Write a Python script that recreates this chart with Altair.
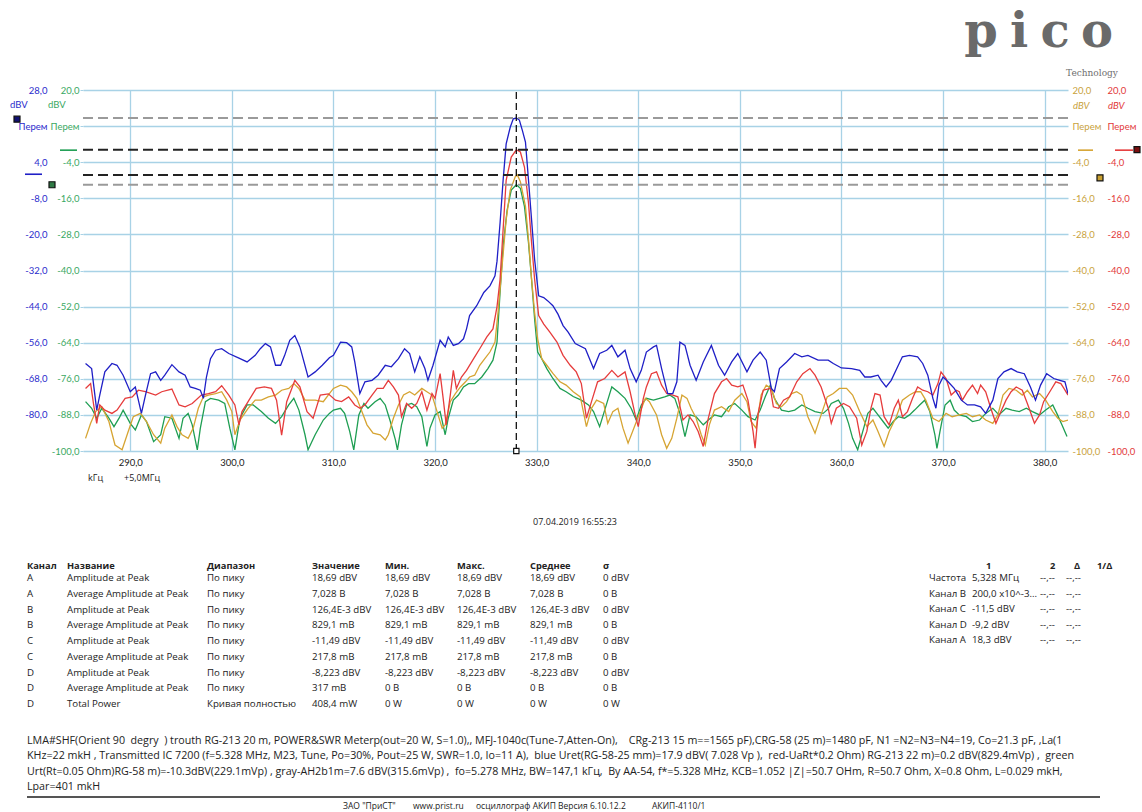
import altair as alt
import pandas as pd

# ---------------- data ----------------
X_TICKS = [290, 300, 310, 320, 330, 340, 350, 360, 370, 380]
Y_TICKS = [-100, -88, -76, -64, -52, -40, -28, -16, -4, 8, 20]
Y_TICKS_A = [-80, -68, -56, -44, -32, -20, -8, 4, 16, 28]
X_DOMAIN = [285.35, 382.3]
Y_DOMAIN = [-100, 20]
Y_DOMAIN_A = [-92, 28]

# channel A (blue), dBV on its own axis
A_POINTS = [(285.6, -62.9), (286.2, -64.6), (286.7, -78.4), (287.0, -73.4), (287.5, -65.7), (288.2, -62.9),
            (288.7, -63.5), (289.3, -66.8), (290.0, -72.3), (290.5, -70.7), (291.1, -79.5), (291.5, -73.4),
            (292.0, -66.3), (292.5, -65.7), (293.0, -68.5), (293.4, -66.8), (294.1, -63.3), (294.8, -65.7),
            (295.4, -66.8), (295.9, -70.7), (296.4, -71.2), (296.9, -71.8), (297.2, -74.5), (297.5, -67.4),
            (297.9, -61.3), (298.4, -58.5), (299.0, -58.0), (299.7, -59.6), (300.7, -61.1), (301.5, -62.4),
            (302.3, -60.2), (302.8, -58.0), (303.3, -56.3), (303.8, -57.4), (304.3, -63.5), (304.8, -63.5),
            (305.2, -60.2), (305.7, -55.2), (306.2, -53.6), (306.7, -57.4), (307.5, -67.4), (308.2, -65.7),
            (308.9, -63.5), (309.6, -61.0), (310.0, -60.2), (310.7, -55.8), (311.3, -56.0), (311.8, -57.4),
            (312.1, -62.4), (312.6, -72.9), (313.1, -69.0), (313.8, -68.5), (314.4, -66.8), (315.1, -63.5),
            (315.7, -64.0), (316.4, -61.3), (317.0, -58.0), (317.5, -59.6), (318.0, -65.7), (318.5, -60.7),
            (319.0, -64.6), (319.3, -68.5), (319.8, -63.5), (320.5, -55.2), (321.0, -57.4), (321.3, -54.1),
            (321.8, -56.9), (322.3, -56.3), (322.8, -54.7), (323.1, -51.4), (323.4, -47.0), (324.1, -43.7),
            (324.8, -39.3), (325.4, -37.1), (325.9, -33.8), (326.1, -28.9), (326.4, -16.2), (326.7, -2.0),
            (327.0, 10.1), (327.4, 15.6), (327.7, 18.4), (328.0, 18.69), (328.3, 18.0), (328.6, 14.5),
            (328.9, 10.7), (329.2, -2.0), (329.5, -15.1), (329.8, -28.3), (330.2, -40.4), (330.7, -41.0),
            (331.1, -42.1), (331.6, -43.7), (332.1, -46.5), (332.6, -50.3), (333.1, -52.5), (333.8, -56.3),
            (334.8, -58.0), (335.6, -64.6), (336.2, -59.6), (336.9, -58.5), (337.4, -56.9), (338.0, -60.7),
            (338.7, -58.5), (339.2, -64.6), (339.8, -69.0), (340.3, -65.2), (340.8, -59.1), (341.5, -57.4),
            (341.8, -56.9), (342.3, -64.6), (342.9, -72.9), (343.4, -72.9), (343.8, -69.0), (344.1, -55.8),
            (344.6, -56.9), (345.1, -63.5), (345.7, -68.5), (346.4, -62.4), (347.2, -56.9), (347.9, -63.5),
            (348.5, -66.8), (349.2, -62.4), (349.8, -59.6), (350.7, -65.7), (351.3, -61.8), (352.0, -59.1),
            (352.6, -61.8), (353.1, -71.2), (353.4, -72.3), (353.9, -64.6), (354.6, -62.4), (355.4, -59.6),
            (356.1, -60.7), (356.7, -60.2), (357.7, -61.8), (358.7, -61.8), (359.2, -62.9), (360.0, -64.4),
            (361.0, -64.6), (361.8, -65.2), (362.3, -67.4), (362.9, -67.4), (363.6, -66.8), (363.9, -68.5),
            (364.4, -70.7), (364.9, -68.5), (365.6, -63.5), (366.0, -60.7), (366.7, -60.2), (367.5, -60.7),
            (368.0, -62.9), (368.5, -66.8), (369.0, -74.5), (369.3, -77.8), (369.6, -70.1), (370.0, -67.4),
            (370.5, -69.0), (371.1, -71.2), (371.8, -75.1), (372.4, -76.7), (373.1, -76.7), (373.7, -77.3),
            (374.2, -79.5), (374.9, -75.1), (375.4, -67.9), (376.0, -65.7), (376.7, -64.6), (377.3, -65.7),
            (378.0, -66.3), (378.6, -70.7), (379.1, -75.1), (379.6, -70.1), (380.2, -66.3), (380.9, -67.9),
            (381.5, -68.5), (382.0, -69.0), (382.3, -72.9)]

# channel B (red)
B_POINTS = [(285.6, -79.2), (286.1, -77.6), (286.4, -84.7), (286.7, -90.8), (287.0, -84.7), (287.5, -86.4),
            (288.2, -87.5), (288.7, -86.4), (289.5, -82.5), (290.2, -82.0), (290.8, -79.8), (291.5, -80.3),
            (292.5, -81.4), (293.1, -80.3), (294.1, -79.4), (294.8, -84.7), (295.4, -85.3), (296.1, -84.2),
            (297.0, -81.4), (297.7, -80.9), (298.4, -80.3), (299.0, -78.3), (299.7, -81.4), (300.3, -84.7),
            (300.7, -91.3), (301.0, -86.9), (301.6, -83.6), (302.4, -79.2), (303.2, -78.7), (303.9, -79.2),
            (304.4, -83.1), (304.9, -94.7), (305.4, -83.6), (305.9, -79.2), (306.2, -76.5), (306.7, -78.7),
            (307.4, -86.9), (308.0, -89.1), (308.7, -81.4), (309.5, -81.0), (310.2, -83.1), (310.8, -83.6),
            (311.5, -82.0), (312.1, -84.7), (312.6, -85.8), (313.1, -84.7), (313.8, -81.4), (314.3, -79.2),
            (314.9, -79.2), (315.4, -76.5), (315.9, -78.7), (316.4, -81.4), (316.7, -88.6), (317.2, -84.2),
            (317.7, -85.8), (318.2, -84.2), (318.7, -80.3), (319.2, -86.4), (319.7, -80.9), (320.0, -82.5),
            (320.5, -74.3), (320.8, -82.5), (321.1, -91.3), (321.5, -81.4), (321.8, -73.2), (322.1, -79.2),
            (322.6, -75.4), (323.1, -73.2), (323.8, -69.3), (324.4, -66.0), (325.1, -62.1), (325.7, -59.4),
            (326.1, -52.0), (326.4, -42.9), (326.7, -26.4), (327.0, -10.0), (327.5, -2.3), (328.0, 0.126),
            (328.4, -0.6), (328.8, -5.6), (329.2, -17.6), (329.5, -30.8), (329.8, -42.9), (330.2, -55.0),
            (330.7, -57.8), (331.3, -60.5), (332.0, -63.8), (332.6, -68.2), (333.3, -71.5), (333.9, -73.7),
            (334.4, -77.6), (334.9, -89.1), (335.4, -83.6), (336.0, -77.0), (336.7, -75.9), (337.4, -73.2),
            (338.0, -75.4), (338.7, -73.7), (339.2, -80.3), (339.7, -88.0), (340.0, -91.9), (340.5, -82.5),
            (340.8, -78.7), (341.3, -74.3), (341.8, -73.7), (342.3, -78.1), (342.8, -80.9), (343.4, -81.4),
            (343.9, -82.0), (344.4, -89.7), (344.9, -88.0), (345.4, -90.2), (345.9, -93.5), (346.4, -98.5),
            (346.9, -89.1), (347.5, -80.9), (348.2, -77.0), (348.7, -75.9), (349.2, -78.1), (349.8, -78.7),
            (350.3, -78.1), (350.8, -83.1), (351.3, -93.5), (351.5, -99.1), (351.8, -87.5), (352.3, -79.8),
            (353.0, -79.2), (353.3, -85.3), (353.8, -85.8), (354.3, -83.1), (354.9, -82.0), (355.6, -77.0),
            (356.2, -74.3), (356.9, -72.6), (357.4, -74.8), (358.0, -78.7), (358.7, -85.8), (359.0, -90.8),
            (359.5, -85.8), (360.2, -84.2), (360.8, -85.3), (361.5, -89.1), (362.0, -98.0), (362.5, -93.5),
            (362.9, -85.8), (363.3, -80.9), (363.8, -81.4), (364.2, -88.6), (364.7, -91.3), (365.2, -85.8),
            (365.6, -83.1), (366.0, -88.6), (366.5, -86.9), (367.0, -82.5), (367.5, -78.7), (368.0, -79.8),
            (368.5, -80.3), (369.0, -81.4), (369.5, -77.6), (369.8, -73.7), (370.3, -75.9), (370.8, -81.4),
            (371.3, -79.8), (371.6, -80.3), (371.9, -83.1), (372.4, -80.3), (372.9, -78.1), (373.4, -80.9),
            (373.7, -78.1), (374.2, -80.3), (374.7, -85.8), (375.2, -90.8), (375.7, -86.9), (376.2, -83.1),
            (376.7, -80.3), (377.2, -78.7), (377.8, -79.8), (378.3, -84.2), (379.0, -90.8), (379.5, -88.0),
            (379.9, -83.6), (380.6, -79.8), (381.1, -77.0), (381.6, -77.6), (381.9, -79.2), (382.3, -81.4)]

# channel C (green)
C_POINTS = [(285.6, -83.6), (286.2, -85.8), (286.7, -89.1), (287.2, -85.8), (287.9, -89.1), (288.4, -91.9),
            (288.9, -89.1), (289.3, -86.4), (290.0, -90.8), (290.5, -93.0), (291.1, -88.0), (291.6, -90.2),
            (292.3, -96.9), (293.0, -94.6), (293.4, -88.6), (294.1, -89.1), (294.8, -95.8), (295.2, -89.1),
            (295.7, -87.5), (296.1, -91.3), (296.6, -99.6), (296.9, -92.4), (297.4, -83.6), (297.9, -82.5),
            (298.7, -83.1), (299.3, -84.2), (299.8, -92.4), (300.3, -99.6), (300.8, -89.1), (301.5, -84.7),
            (302.1, -84.7), (302.9, -86.9), (303.6, -89.1), (304.3, -90.8), (304.9, -88.6), (305.6, -84.7),
            (306.1, -82.5), (306.6, -86.4), (307.2, -94.6), (307.5, -99.6), (308.2, -94.6), (309.0, -89.7),
            (309.6, -87.5), (310.0, -86.4), (310.7, -85.8), (311.1, -87.5), (311.6, -93.5), (312.0, -99.6),
            (312.5, -88.0), (313.0, -84.2), (313.4, -85.8), (314.1, -83.6), (314.6, -82.5), (315.1, -84.7),
            (315.6, -90.2), (316.1, -96.3), (316.3, -99.6), (316.7, -91.3), (317.2, -84.7), (317.7, -84.2),
            (318.2, -85.3), (318.7, -88.6), (319.2, -98.5), (319.5, -92.4), (320.0, -88.0), (320.5, -86.9),
            (321.0, -94.6), (321.3, -89.1), (321.8, -83.1), (322.3, -81.4), (322.8, -78.7), (323.3, -77.6),
            (323.9, -77.6), (324.6, -75.4), (325.2, -72.6), (325.7, -69.8), (326.1, -63.8), (326.4, -47.3),
            (326.7, -31.9), (327.1, -19.8), (327.5, -13.3), (328.0, -11.49), (328.4, -12.7), (328.8, -18.7),
            (329.2, -30.8), (329.5, -42.9), (329.8, -56.1), (330.1, -67.1), (330.5, -69.3), (331.0, -72.6),
            (331.6, -75.9), (332.3, -79.2), (332.9, -80.3), (333.6, -81.9), (334.4, -83.1), (335.1, -84.7),
            (335.6, -86.9), (336.2, -91.9), (336.7, -86.4), (337.4, -78.7), (338.0, -80.3), (338.7, -82.5),
            (339.3, -85.8), (339.8, -89.7), (340.3, -84.7), (340.8, -82.5), (341.5, -83.1), (342.1, -82.5),
            (342.6, -82.0), (343.1, -81.4), (343.6, -82.5), (344.1, -87.5), (344.6, -95.2), (345.1, -88.0),
            (345.7, -88.6), (346.4, -91.3), (346.9, -89.7), (347.5, -88.0), (348.2, -88.6), (348.9, -85.3),
            (349.5, -84.2), (350.2, -86.4), (350.8, -88.6), (351.5, -89.7), (352.0, -86.4), (352.5, -82.0),
            (353.0, -78.1), (353.4, -82.5), (354.1, -86.4), (354.8, -86.9), (355.4, -86.4), (356.1, -84.7),
            (356.7, -85.8), (357.4, -86.9), (358.2, -87.5), (358.7, -86.0), (359.0, -84.2), (359.7, -83.1),
            (360.2, -85.8), (360.7, -90.8), (361.1, -95.8), (361.6, -99.6), (362.1, -93.5), (362.6, -87.5),
            (363.1, -85.8), (363.6, -88.0), (364.1, -90.2), (364.6, -92.4), (365.1, -90.2), (365.6, -88.6),
            (366.2, -89.1), (366.7, -88.0), (367.2, -86.4), (367.7, -84.7), (368.2, -83.1), (368.7, -86.9),
            (369.2, -94.6), (369.4, -99.1), (369.7, -93.5), (370.2, -84.7), (370.7, -83.1), (371.1, -86.4),
            (371.6, -88.0), (372.3, -88.6), (372.9, -90.2), (373.6, -89.7), (374.2, -87.5), (374.9, -85.8),
            (375.5, -88.0), (376.2, -85.8), (376.8, -86.4), (377.5, -86.9), (378.2, -85.8), (378.8, -86.9),
            (379.5, -88.0), (380.1, -86.4), (380.8, -84.7), (381.2, -87.5), (381.7, -91.3), (382.2, -95.2)]

# channel D (orange)
D_POINTS = [(285.6, -95.8), (286.1, -90.8), (286.6, -86.9), (287.2, -85.3), (287.9, -90.2), (288.5, -98.0),
            (289.2, -99.6), (289.8, -93.5), (290.3, -88.6), (291.0, -87.5), (291.6, -90.2), (292.3, -94.6),
            (293.0, -97.4), (293.4, -92.4), (294.1, -88.0), (294.6, -91.9), (295.1, -94.6), (295.7, -95.8),
            (296.2, -92.4), (296.7, -85.8), (297.2, -82.0), (297.7, -81.4), (298.4, -80.9), (299.0, -80.3),
            (299.5, -83.1), (300.0, -86.9), (300.3, -94.6), (300.8, -89.7), (301.6, -85.8), (302.3, -83.1),
            (302.9, -83.1), (303.6, -82.0), (304.3, -81.4), (304.9, -79.8), (305.6, -79.2), (306.1, -77.6),
            (306.6, -79.2), (307.2, -83.1), (308.2, -83.1), (309.0, -83.6), (309.6, -80.9), (310.0, -79.2),
            (310.7, -78.1), (311.3, -78.7), (311.8, -80.3), (312.3, -82.5), (312.8, -86.9), (313.3, -91.3),
            (313.9, -94.1), (314.6, -94.6), (315.1, -96.3), (315.4, -94.6), (315.9, -89.1), (316.4, -84.7),
            (316.9, -81.4), (317.5, -80.3), (318.0, -81.4), (318.7, -79.2), (319.2, -80.3), (319.7, -81.4),
            (320.2, -86.9), (320.7, -92.4), (321.0, -91.3), (321.5, -83.6), (322.0, -80.9), (322.5, -78.7),
            (323.0, -77.0), (323.4, -75.4), (323.9, -74.8), (324.4, -71.5), (324.9, -69.3), (325.4, -67.1),
            (325.9, -63.8), (326.2, -53.9), (326.6, -38.5), (327.0, -23.1), (327.4, -13.3), (327.9, -8.8),
            (328.1, -8.223), (328.4, -10.5), (328.9, -18.7), (329.2, -29.7), (329.5, -42.9), (329.8, -53.9),
            (330.1, -62.7), (330.5, -69.3), (331.0, -71.5), (331.6, -74.2), (332.3, -77.0), (332.9, -78.1),
            (333.6, -80.3), (334.3, -82.0), (334.9, -91.9), (335.4, -85.8), (335.9, -83.1), (336.6, -84.2),
            (337.0, -90.8), (337.5, -86.9), (338.0, -85.8), (338.5, -92.4), (339.0, -97.4), (339.7, -91.3),
            (340.2, -86.9), (340.7, -82.5), (341.1, -83.6), (341.8, -88.0), (342.3, -94.6), (342.8, -99.1),
            (343.3, -95.8), (343.8, -89.1), (344.3, -81.4), (344.8, -82.5), (345.2, -85.8), (345.7, -89.1),
            (346.2, -94.6), (346.6, -98.0), (347.0, -91.3), (347.5, -86.4), (348.2, -85.3), (348.9, -86.9),
            (349.5, -83.1), (350.2, -80.9), (350.7, -83.6), (351.1, -90.2), (351.6, -92.4), (352.1, -81.4),
            (352.6, -78.1), (353.1, -79.2), (353.6, -84.2), (354.1, -85.3), (354.6, -83.6), (355.1, -80.9),
            (355.6, -80.3), (356.1, -81.4), (356.7, -88.6), (357.4, -94.1), (358.0, -88.0), (358.6, -82.0),
            (359.2, -80.9), (359.8, -79.2), (360.5, -79.2), (361.1, -81.4), (361.8, -86.9), (362.5, -91.9),
            (363.1, -89.7), (363.6, -93.5), (364.2, -98.5), (364.7, -93.5), (365.4, -88.6), (366.0, -83.1),
            (366.7, -81.4), (367.3, -80.3), (367.8, -80.3), (368.3, -83.1), (369.0, -89.1), (369.6, -90.2),
            (370.3, -87.5), (370.9, -88.6), (371.6, -88.0), (372.3, -87.5), (372.9, -88.6), (373.6, -88.0),
            (374.2, -89.7), (374.9, -90.8), (375.4, -88.0), (375.9, -81.4), (376.5, -79.2), (377.2, -79.8),
            (377.8, -81.4), (378.3, -79.8), (378.8, -82.0), (379.5, -80.9), (380.1, -83.1), (380.8, -86.9),
            (381.3, -89.1), (381.8, -90.2), (382.3, -89.7)]

PEAK_A_DBV = 18.69
PEAK_B_DBV = 0.1264
PEAK_C_DBV = -11.49
PEAK_D_DBV = -8.223
CURSOR_KHZ = 328.0
CURSOR_A = 18.3
CURSOR_B = 0.2
CURSOR_C = -11.5
CURSOR_D = -9.2
REF_LEVEL = 0.0

DATE_TEXT = "07.04.2019 16:55:23"
TABLE_HEAD = ["Канал", "Название", "Диапазон", "Значение", "Мин.", "Макс.", "Среднее", "σ"]
TABLE_CHANNEL = ["A", "A", "B", "B", "C", "C", "D", "D", "D"]
TABLE_NAME = ["Amplitude at Peak", "Average Amplitude at Peak", "Amplitude at Peak", "Average Amplitude at Peak",
              "Amplitude at Peak", "Average Amplitude at Peak", "Amplitude at Peak", "Average Amplitude at Peak",
              "Total Power"]
TABLE_RANGE = ["По пику"] * 8 + ["Кривая полностью"]
TABLE_VALUE = ["18,69 dBV", "7,028 В", "126,4E-3 dBV", "829,1 mВ", "-11,49 dBV", "217,8 mВ", "-8,223 dBV", "317 mВ", "408,4 mW"]
TABLE_MIN = ["18,69 dBV", "7,028 В", "126,4E-3 dBV", "829,1 mВ", "-11,49 dBV", "217,8 mВ", "-8,223 dBV", "0 В", "0 W"]
TABLE_MAX = ["18,69 dBV", "7,028 В", "126,4E-3 dBV", "829,1 mВ", "-11,49 dBV", "217,8 mВ", "-8,223 dBV", "0 В", "0 W"]
TABLE_MEAN = ["18,69 dBV", "7,028 В", "126,4E-3 dBV", "829,1 mВ", "-11,49 dBV", "217,8 mВ", "-8,223 dBV", "0 В", "0 W"]
TABLE_SIGMA = ["0 dBV", "0 В", "0 dBV", "0 В", "0 dBV", "0 В", "0 dBV", "0 В", "0 W"]

CURSOR_HEAD = ["1", "2", "Δ", "1/Δ"]
CURSOR_LABEL = ["Частота", "Канал B", "Канал C", "Канал D", "Канал A"]
CURSOR_VALUE = ["5,328 МГц", "200,0 x10^-3...", "-11,5 dBV", "-9,2 dBV", "18,3 dBV"]
CURSOR_EMPTY = ["--,--"] * 5

NOTE_LINES = [
    "LMA#SHF(Orient 90  degry  ) trouth RG-213 20 m, POWER&SWR Meterp(out=20 W, S=1.0),, MFJ-1040c(Tune-7,Atten-On),    CRg-213 15 m==1565 pF),CRG-58 (25 m)=1480 pF, N1 =N2=N3=N4=19, Co=21.3 pF, ,La(1",
    "KHz=22 mkH , Transmitted IC 7200 (f=5.328 MHz, M23, Tune, Po=30%, Pout=25 W, SWR=1.0, Io=11 A),  blue Uret(RG-58-25 mm)=17.9 dBV( 7.028 Vp ),  red-UaRt*0.2 Ohm) RG-213 22 m)=0.2 dBV(829.4mVp) ,  green",
    "Urt(Rt=0.05 Ohm)RG-58 m)=-10.3dBV(229.1mVp) , gray-AH2b1m=7.6 dBV(315.6mVp) ,  fo=5.278 MHz, BW=147,1 kГц,  By AA-54, f*=5.328 MHz, KCB=1.052 |Z|=50.7 OHm, R=50.7 Ohm, X=0.8 Ohm, L=0.029 mkH,",
    "Lpar=401 mkH",
]
FOOTER_PARTS = ['ЗАО "ПриСТ"', "www.prist.ru", "осциллограф АКИП Версия 6.10.12.2", "АКИП-4110/1"]

# ---------------- style ----------------
W, H = 985, 361
PAD_L, PAD_T = 83, 90
FONT = "Lato"
TFONT = "Open Sans"
GRID = "#a8d2e6"
A_COL, B_COL, C_COL, D_COL = "#1f1fc6", "#e63c3c", "#1e9e52", "#d6a432"
A_LAB, B_LAB, C_LAB, D_LAB = "#2b2bcc", "#e23a3a", "#3aa862", "#c9a23c"

NUM = "replace(replace(format(datum.value, '.1f'), '.', ','), '\u2212', '-')"


def lab_expr(var_value):
    return f"datum.value == {var_value} ? 'Перем' : " + NUM


x_scale = alt.Scale(domain=X_DOMAIN, nice=False, zero=False)
X_AXIS = alt.Axis(values=X_TICKS, labelExpr=NUM, grid=True, gridColor=GRID, gridWidth=1.3,
                  domain=False, ticks=False, labelPadding=6, labelFont=FONT, labelFontSize=9.5,
                  labelColor="#222", title=None)


def ys(dom):
    return alt.Scale(domain=dom, nice=False, zero=False)


def trace(points, color, dom, axis):
    df = pd.DataFrame(points, columns=["f", "v"])
    return alt.Chart(df).mark_line(color=color, strokeWidth=1.3, clip=True).encode(
        x=alt.X("f:Q", scale=x_scale, axis=X_AXIS),
        y=alt.Y("v:Q", scale=ys(dom), axis=axis),
    )


axis_C = alt.Axis(orient="left", values=Y_TICKS, labelExpr=lab_expr(8), grid=True, gridColor=GRID,
                  gridWidth=1.3, domain=False, tickSize=3, tickColor=GRID, labelPadding=1,
                  labelFont=FONT, labelFontSize=9.5, labelColor=C_LAB, title=None)
axis_A = alt.Axis(orient="left", offset=32, values=Y_TICKS_A, labelExpr=lab_expr(16), grid=False,
                  domain=False, ticks=False, labelPadding=4, labelFont=FONT, labelFontSize=9.5,
                  labelColor=A_LAB, title=None)
axis_D = alt.Axis(orient="right", values=Y_TICKS, labelExpr=lab_expr(8), grid=False, domain=False,
                  ticks=False, labelPadding=4, labelFont=FONT, labelFontSize=9.5, labelColor=D_LAB, title=None)
axis_B = alt.Axis(orient="right", offset=35, values=Y_TICKS, labelExpr=lab_expr(8), grid=False, domain=False,
                  ticks=False, labelPadding=4, labelFont=FONT, labelFontSize=9.5, labelColor=B_LAB, title=None)

layers = [
    trace(C_POINTS, C_COL, Y_DOMAIN, axis_C),
    trace(D_POINTS, D_COL, Y_DOMAIN, axis_D),
    trace(B_POINTS, B_COL, Y_DOMAIN, axis_B),
    trace(A_POINTS, A_COL, Y_DOMAIN_A, axis_A),
]


def hrule(val, dom, color):
    return alt.Chart(pd.DataFrame({"v": [val]})).mark_rule(color=color, strokeWidth=2, strokeDash=[10, 5]).encode(
        y=alt.Y("v:Q", scale=ys(dom), axis=None))


layers += [
    hrule(PEAK_A_DBV, Y_DOMAIN_A, "#9a9a9a"),
    hrule(PEAK_B_DBV, Y_DOMAIN, "#222222"),
    hrule(PEAK_C_DBV, Y_DOMAIN, "#9a9a9a"),
    hrule(PEAK_D_DBV, Y_DOMAIN, "#222222"),
]

cur_df = pd.DataFrame({"f": [CURSOR_KHZ], "lo": [Y_DOMAIN[0]], "hi": [Y_DOMAIN[1]]})
layers.append(alt.Chart(cur_df).mark_rule(color="#111", strokeWidth=1.3, strokeDash=[7, 4]).encode(
    x=alt.X("f:Q", scale=x_scale, axis=X_AXIS),
    y=alt.Y("lo:Q", scale=ys(Y_DOMAIN), axis=None), y2="hi:Q"))
layers.append(alt.Chart(cur_df).mark_point(shape="square", size=28, filled=True, fill="white", stroke="#111",
                                           strokeWidth=1.2, opacity=1).encode(
    x=alt.X("f:Q", scale=x_scale, axis=X_AXIS),
    y=alt.Y("lo:Q", scale=ys(Y_DOMAIN), axis=None)))


# channel reference (0 dBV) short lines and cursor markers outside plot
def ref_line(dom, color, X1, X2):
    return alt.Chart(pd.DataFrame({"v": [REF_LEVEL]})).mark_rule(color=color, strokeWidth=1.6).encode(
        y=alt.Y("v:Q", scale=ys(dom), axis=None), x=alt.value(X1 - PAD_L), x2=alt.value(X2 - PAD_L))


def cur_mark(val, dom, fill, X):
    return alt.Chart(pd.DataFrame({"v": [val]})).mark_square(size=36, fill=fill, stroke="#111", strokeWidth=1.2,
                                                              opacity=1).encode(
        y=alt.Y("v:Q", scale=ys(dom), axis=None), x=alt.value(X - PAD_L))


layers += [
    ref_line(Y_DOMAIN_A, A_COL, 25, 42),
    ref_line(Y_DOMAIN, C_COL, 60, 77),
    ref_line(Y_DOMAIN, D_COL, 1078, 1093),
    ref_line(Y_DOMAIN, B_COL, 1115, 1133),
    cur_mark(CURSOR_A, Y_DOMAIN_A, "#101070", 17),
    cur_mark(CURSOR_C, Y_DOMAIN, "#2f7a45", 52),
    cur_mark(CURSOR_D, Y_DOMAIN, "#c9a030", 1100),
    cur_mark(CURSOR_B, Y_DOMAIN, "#7a1010", 1137),
]


def txt(s, X, Y, size=9.0, color="#222", align="left", weight="normal", font=TFONT, baseline="middle",
        style="normal"):
    return alt.Chart(pd.DataFrame({"t": [s]})).mark_text(
        align=align, baseline=baseline, fontSize=size, color=color, fontWeight=weight, font=font,
        fontStyle=style).encode(text="t:N", x=alt.value(X - PAD_L), y=alt.value(Y - PAD_T))


# unit labels
layers += [
    txt("dBV", 10, 105, size=9.5, color=A_LAB, font=FONT),
    txt("dBV", 48, 105, size=9.5, color=C_LAB, font=FONT),
    txt("dBV", 1073, 106, size=9.5, color=D_LAB, style="italic", font=FONT),
    txt("dBV", 1108, 106, size=9.5, color=B_LAB, style="italic", font=FONT),
    txt("kГц", 88, 478, size=9),
    txt("+5,0МГц", 124, 478, size=9),
    txt(DATE_TEXT, 575, 522, size=9, align="center"),
]

TSIZE = 9.7
# measurement table
TABLE_X = [27, 67, 207, 312, 385, 457, 530, 603]
TABLE_COLS = [TABLE_CHANNEL, TABLE_NAME, TABLE_RANGE, TABLE_VALUE, TABLE_MIN, TABLE_MAX, TABLE_MEAN, TABLE_SIGMA]
for head, X in zip(TABLE_HEAD, TABLE_X):
    layers.append(txt(head, X, 566, size=9.3, weight="bold"))
row_scale = alt.Scale(domain=[0, 8], range=[578 - PAD_T, 704 - PAD_T])
for col, X in zip(TABLE_COLS, TABLE_X):
    df = pd.DataFrame({"row": list(range(len(col))), "t": col})
    layers.append(alt.Chart(df).mark_text(align="left", baseline="middle", fontSize=TSIZE, font=TFONT, color="#222").encode(
        text="t:N", x=alt.value(X - PAD_L), y=alt.Y("row:Q", scale=row_scale, axis=None)))

# cursor table
for head, X in zip(CURSOR_HEAD, [986, 1050, 1074, 1097]):
    layers.append(txt(head, X, 566, size=9.3, weight="bold"))
cur_scale = alt.Scale(domain=[0, 4], range=[578 - PAD_T, 640 - PAD_T])
for col, X in zip([CURSOR_LABEL, CURSOR_VALUE, CURSOR_EMPTY, CURSOR_EMPTY], [929, 972, 1040, 1066]):
    df = pd.DataFrame({"row": list(range(len(col))), "t": col})
    layers.append(alt.Chart(df).mark_text(align="left", baseline="middle", fontSize=TSIZE, font=TFONT, color="#222").encode(
        text="t:N", x=alt.value(X - PAD_L), y=alt.Y("row:Q", scale=cur_scale, axis=None)))

# notes (keep repeated spaces visible)
note_text = [s.replace("  ", "\u00a0\u00a0") for s in NOTE_LINES]
note_scale = alt.Scale(domain=[0, 3], range=[741 - PAD_T, 787 - PAD_T])
note_df = pd.DataFrame({"row": list(range(len(note_text))), "t": note_text})
layers.append(alt.Chart(note_df).mark_text(align="left", baseline="middle", fontSize=10.7, font=TFONT, color="#222").encode(
    text="t:N", x=alt.value(27 - PAD_L), y=alt.Y("row:Q", scale=note_scale, axis=None)))

layers.append(alt.Chart(pd.DataFrame({"k": [1]})).mark_rule(color="#555", strokeWidth=2).encode(
    x=alt.value(27 - PAD_L), x2=alt.value(1100 - PAD_L), y=alt.value(797 - PAD_T)))
for part, X in zip(FOOTER_PARTS, [343, 413, 476, 652]):
    layers.append(txt(part, X, 806, size=8.5))

# logo
for ch, X in zip(["p", "i", "c", "o"], [981, 1019, 1055, 1097]):
    layers.append(txt(ch, X, 47, size=48, color="#6a6a6a", align="center", font="DejaVu Serif",
                      baseline="alphabetic", weight="bold"))
layers.append(txt("Technology", 1092, 73, size=9, color="#6e6e6e", align="center", font="DejaVu Serif"))

chart = alt.layer(*layers).resolve_scale(y="independent").properties(
    width=W, height=H,
    padding={"left": PAD_L, "top": PAD_T, "right": 1142 - PAD_L - W, "bottom": 812 - PAD_T - H},
    autosize=alt.AutoSizeParams(type="none"),
    background="white",
).configure_view(stroke=None)

chart.save("out.html", embed_options={"renderer": "svg", "actions": False})
